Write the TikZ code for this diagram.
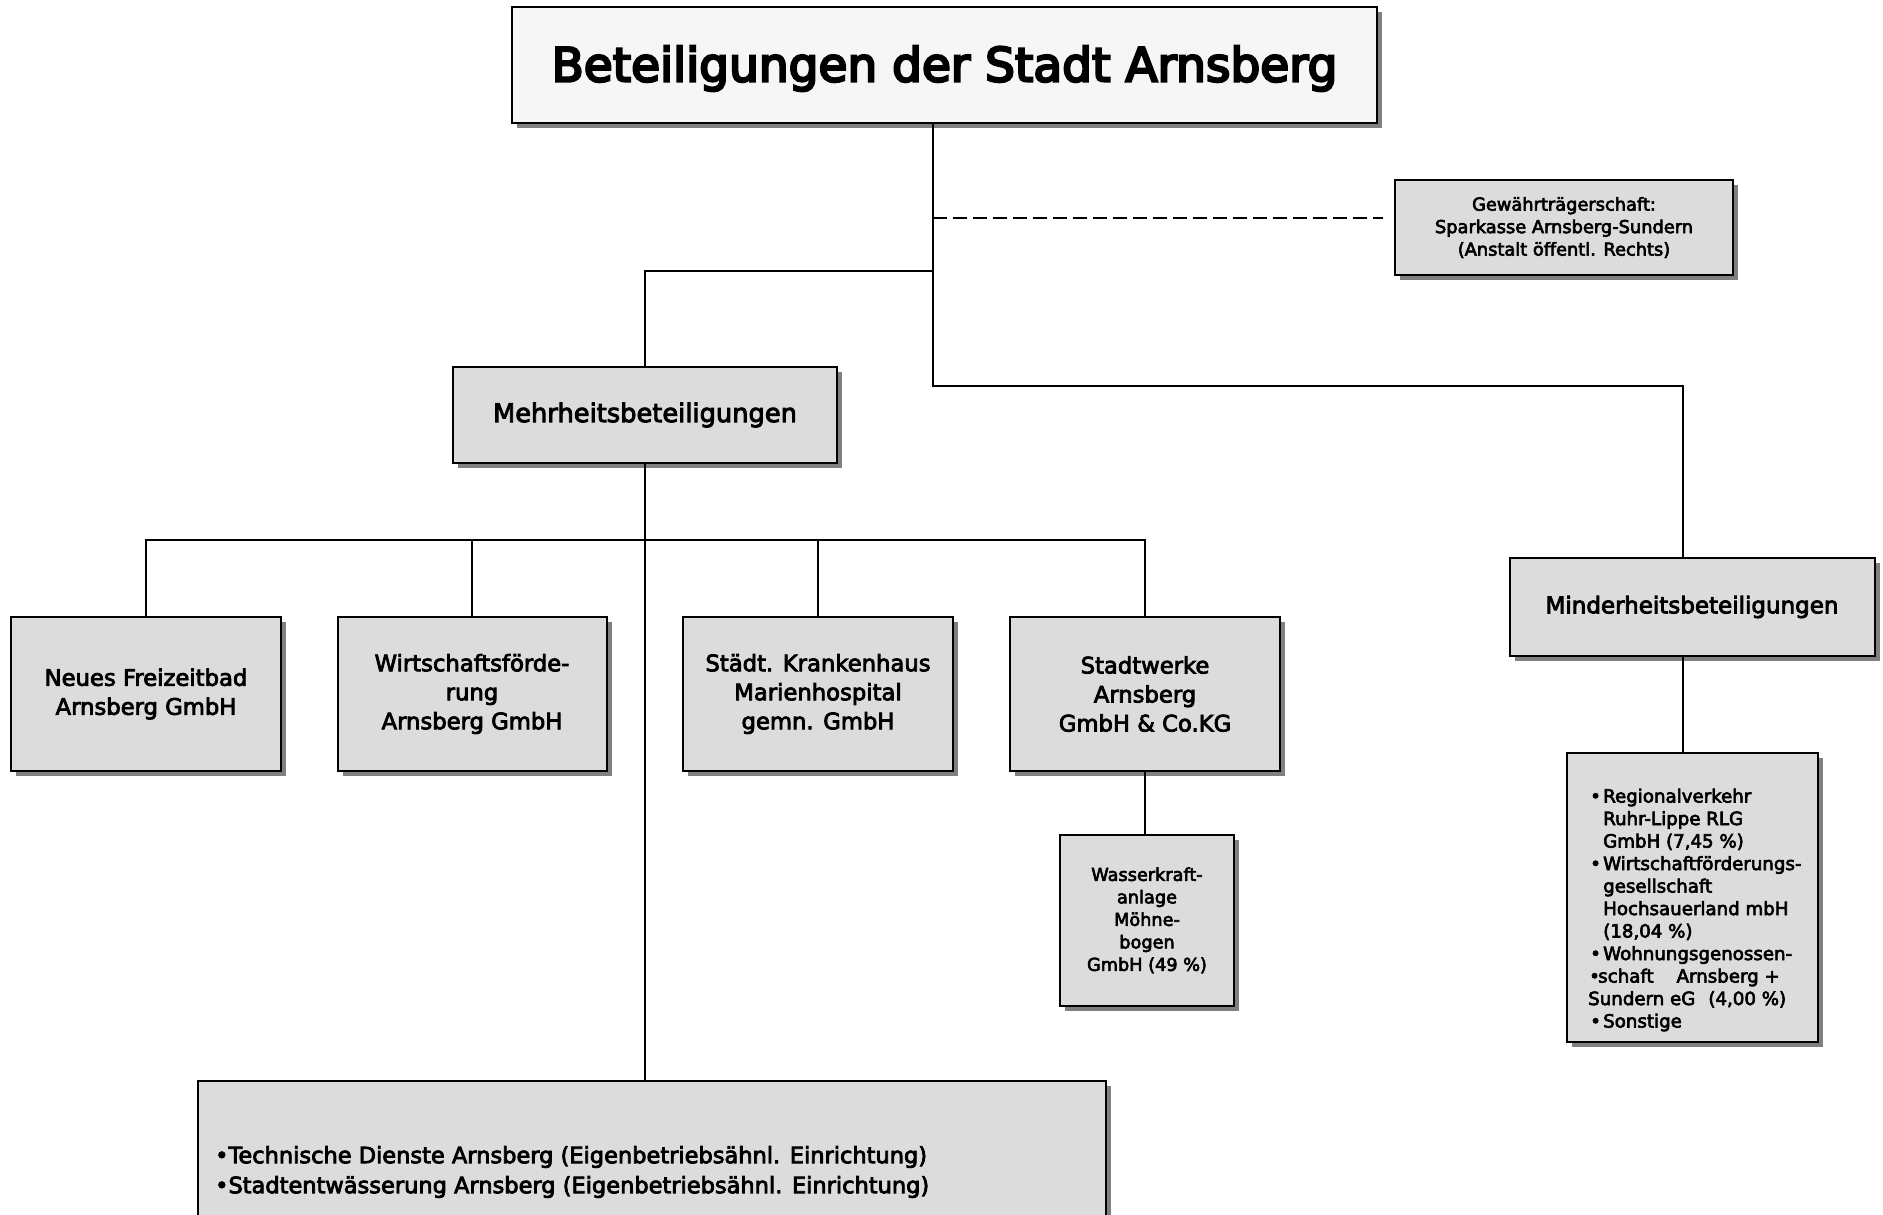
\documentclass[tikz,border=0pt]{standalone}
\usepackage{fontspec}
\setmainfont[FakeBold=3.5]{DejaVu Sans}
\newfontfamily\titlefont[FakeBold=5]{DejaVu Sans}
\usetikzlibrary{shadows}
\definecolor{boxgray}{HTML}{DCDCDC}
\definecolor{titlefill}{HTML}{F6F6F6}
\definecolor{shadowgray}{HTML}{808080}
\begin{document}
\begin{tikzpicture}[x=1pt,y=-1pt,
  orgbox/.style={draw=black, line width=2pt, fill=boxgray, rectangle, inner sep=0pt, align=center,
    drop shadow={shadow xshift=5pt, shadow yshift=-5pt, fill=shadowgray, opacity=1}},
  conn/.style={draw=black, line width=2pt},
  rowlabel/.style={font=\fontsize{22.7}{29}\selectfont},
  smalllabel/.style={font=\fontsize{17.8}{22.5}\selectfont},
  listtext/.style={anchor=west, inner sep=0pt, align=left},
]
\useasboundingbox (0,0) rectangle (1883,1215);
\fill[white] (0,0) rectangle (1883,1215);
\begin{scope}
\clip (0,0) rectangle (1883,1215);

% boxes
\node[orgbox, fill=titlefill, minimum width=865pt, minimum height=115.5pt,
  font=\titlefont\fontsize{47}{50}\selectfont] (title) at (944.5,64.75)
  {\raisebox{-16.7pt}[0pt][0pt]{Beteiligungen der Stadt Arnsberg}};
\node[orgbox, smalllabel, minimum width=338pt, minimum height=95pt] (spark) at (1564,227.5)
  {Gewährträgerschaft:\\Sparkasse Arnsberg-Sundern\\(Anstalt öffentl. Rechts)};
\node[orgbox, minimum width=384pt, minimum height=96.5pt, font=\fontsize{25.7}{30}\selectfont]
  (mehr) at (645,415) {Mehrheitsbeteiligungen};
\node[orgbox, minimum width=365pt, minimum height=97.7pt, font=\fontsize{23}{28}\selectfont]
  (minder) at (1692,607) {Minderheitsbeteiligungen};
\node[orgbox, minimum width=251pt, minimum height=289pt] (minlist) at (1692.5,897.5) {};
\node[orgbox, rowlabel, minimum width=270pt, minimum height=154pt] (b1) at (146,694)
  {Neues Freizeitbad\\Arnsberg GmbH};
\node[orgbox, rowlabel, minimum width=269pt, minimum height=154pt] (b2) at (472,694)
  {Wirtschaftsförde-\\rung\\Arnsberg GmbH};
\node[orgbox, rowlabel, minimum width=270pt, minimum height=154pt] (b3) at (818,694)
  {Städt. Krankenhaus\\Marienhospital\\gemn. GmbH};
\node[orgbox, rowlabel, minimum width=270pt, minimum height=154pt] (b4) at (1145,694)
  {Stadtwerke\\Arnsberg\\GmbH \& Co.KG};
\node[orgbox, minimum width=174.5pt, minimum height=171.4pt, font=\fontsize{17.7}{22.5}\selectfont]
  (wk) at (1147,920.3) {Wasserkraft-\\anlage\\Möhne-\\bogen\\GmbH (49 \%)};
\node[orgbox, minimum width=908pt, minimum height=200pt] (tech) at (652,1181) {};

% texts inside list boxes
\node[listtext, font=\fontsize{18.2}{22.5}\selectfont] (mltext) at (1588,910)
  {\hspace*{2pt}\makebox[13pt][l]{•}Regionalverkehr\\
   \hspace*{15pt}Ruhr-Lippe RLG\\
   \hspace*{15pt}GmbH (7,45 \%)\\
   \hspace*{2pt}\makebox[13pt][l]{•}Wirtschaftförderungs-\\
   \hspace*{15pt}gesellschaft\\
   \hspace*{15pt}Hochsauerland mbH\\
   \hspace*{15pt}(18,04 \%)\\
   \hspace*{2pt}\makebox[13pt][l]{•}Wohnungsgenossen-\\
   \hspace*{1pt}\makebox[9pt][l]{•}schaft\hspace{23pt}Arnsberg +\\
   Sundern eG\hspace{13pt}(4,00 \%)\\
   \hspace*{2pt}\makebox[13pt][l]{•}Sonstige};
\node[listtext, font=\fontsize{22.5}{30}\selectfont] (techtext) at (215,1172)
  {•Technische Dienste Arnsberg (Eigenbetriebsähnl. Einrichtung)\\
   •Stadtentwässerung Arnsberg (Eigenbetriebsähnl. Einrichtung)};

% junction coordinates
\coordinate (trunk) at (933,0);
\coordinate (jd) at (933,218);
\coordinate (dashend) at (1383,218);
\coordinate (jm) at (933,271);
\coordinate (jmin) at (933,385.5);
\coordinate (minx) at (1682.5,0);
\coordinate (bus) at (0,540);

% connectors
\draw[conn] (title.south -| trunk) -- (jmin) -| (minx |- minder.north);
\draw[conn] (jm) -| (mehr.north);
\draw[conn, dash pattern=on 14pt off 6pt] (jd) -- (dashend);
\draw[conn] (mehr.south) -- (mehr.south |- tech.north);
\draw[conn] (b1.north) -- (b1.north |- bus) -- (b4.north |- bus) -- (b4.north);
\draw[conn] (b2.north) -- (b2.north |- bus);
\draw[conn] (b3.north) -- (b3.north |- bus);
\draw[conn] (b4.south) -- (b4.south |- wk.north);
\draw[conn] (minx |- minder.south) -- (minx |- minlist.north);
\end{scope}
\end{tikzpicture}
\end{document}
